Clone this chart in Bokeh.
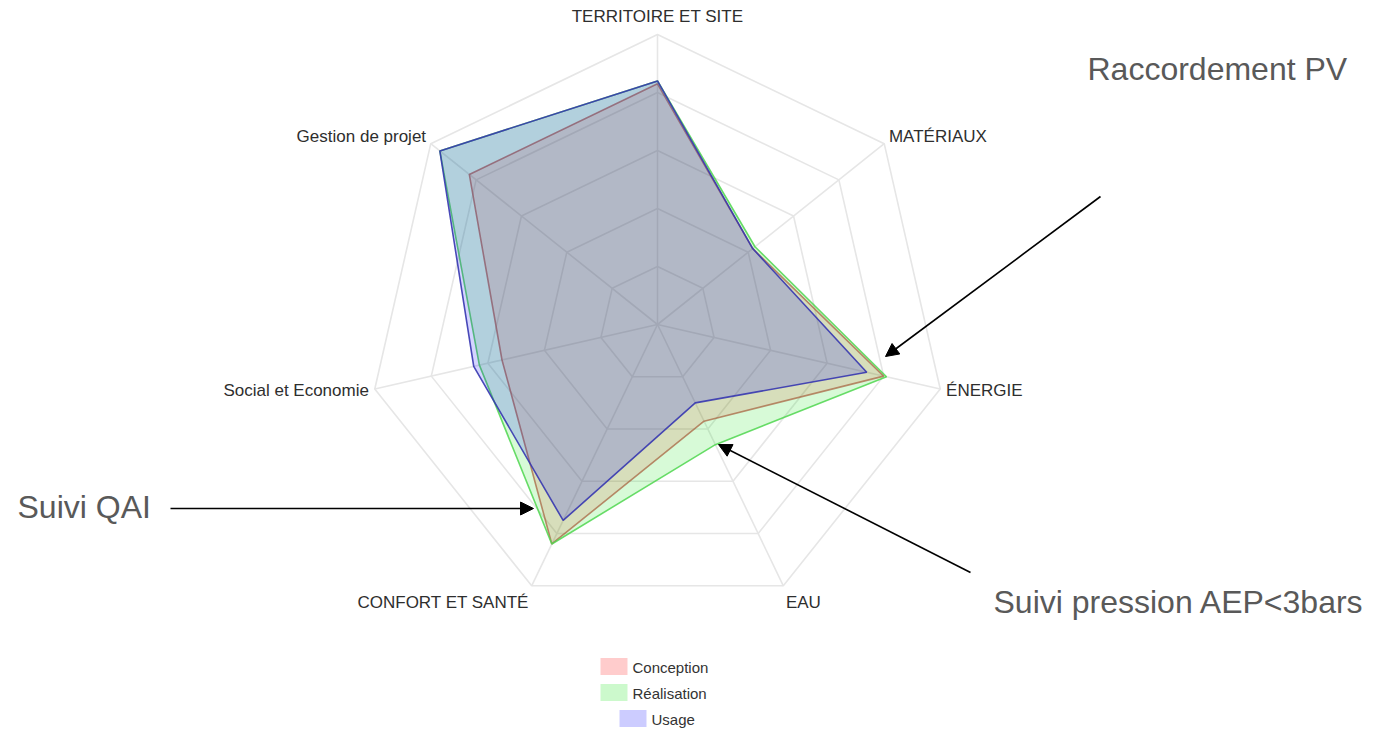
import numpy as np
from bokeh.plotting import figure
from bokeh.models import Range1d, Arrow, NormalHead
from bokeh.core.properties import value
from bokeh.embed import file_html
from bokeh.resources import INLINE

# --- data -------------------------------------------------------------
categories = ["TERRITOIRE ET SITE", "MATÉRIAUX", "ÉNERGIE", "EAU",
              "CONFORT ET SANTÉ", "Social et Economie", "Gestion de projet"]
conception = [83, 42, 80, 37, 84, 55, 83]
realisation = [84, 43, 81, 46, 84, 63, 96]
usage = [84, 42, 74, 30, 75, 65, 96]
series_names = ["Conception", "Réalisation", "Usage"]
scale_max = 100
ring_levels = [20, 40, 60, 80, 100]

notes = ["Raccordement PV", "Suivi QAI", "Suivi pression AEP<3bars"]

# --- layout (screen-like units, y grows downward) ---------------------
W, H = 1384, 734
CX, CY = 657, 324
RADIUS = 290
LABEL_R = 296
FONT = "Liberation Sans"

fill_colors = ["#ff0000", "#00e000", "#0000ff"]
fill_alphas = [0.13, 0.155, 0.17]
line_colors = ["#c85050", "#4fd64f", "#3636b0"]
line_alphas = [0.75, 0.85, 0.9]

n = len(categories)
angles = np.arange(n) * 2 * np.pi / n


def polar(vals):
    r = np.asarray(vals, dtype=float) / scale_max * RADIUS
    return CX + r * np.sin(angles), CY - r * np.cos(angles)


p = figure(width=W, height=H, output_backend="svg", toolbar_location=None,
           x_range=Range1d(0, W), y_range=Range1d(H, 0), min_border=0)
p.axis.visible = False
p.grid.visible = False
p.outline_line_color = None
p.background_fill_color = "white"

# web: concentric heptagons and spokes
for lvl in ring_levels:
    gx, gy = polar([lvl] * n)
    p.patch(list(gx) + [gx[0]], list(gy) + [gy[0]], fill_color=None,
            line_color="#e6e6e6", line_width=1.6)
ox, oy = polar([scale_max] * n)
p.segment(x0=[CX] * n, y0=[CY] * n, x1=list(ox), y1=list(oy),
          line_color="#e6e6e6", line_width=1.6)

# series polygons
for vals, fc, fa, lc, la in zip([conception, realisation, usage],
                                fill_colors, fill_alphas, line_colors, line_alphas):
    sx, sy = polar(vals)
    p.patch(list(sx), list(sy), fill_color=fc, fill_alpha=fa,
            line_color=lc, line_alpha=la, line_width=1.6)

# category labels around the web
lx, ly, aligns, bases = [], [], [], []
for a in angles:
    s, c = np.sin(a), np.cos(a)
    lx.append(CX + LABEL_R * s)
    y = CY - LABEL_R * c
    if abs(s) < 0.05:
        aligns.append("center")
    elif s > 0:
        aligns.append("left")
    else:
        aligns.append("right")
    if c > 0.95:
        bases.append("bottom")
        y -= 3
    elif c < -0.5:
        bases.append("top")
        y += 2
    else:
        bases.append("middle")
        if c > 0:
            y -= 3
    ly.append(y)
for x, y, t, al, bl in zip(lx, ly, categories, aligns, bases):
    p.text(x=[x], y=[y], text=[t], text_align=al, text_baseline=bl,
           text_font=value(FONT), text_font_size="17px", text_color="#2e2e2e")

# legend, one centred row per series
leg_cx = 656.5
leg_rows_y = [666, 692, 718]
leg_text_w = [81, 81, 43]
sw_w, sw_h, gap = 27, 17, 5
for name, fc, yy, tw in zip(series_names, fill_colors, leg_rows_y, leg_text_w):
    left = leg_cx - (sw_w + gap + tw) / 2
    p.quad(left=[left], right=[left + sw_w], top=[yy - sw_h / 2],
           bottom=[yy + sw_h / 2], fill_color=fc, fill_alpha=0.2, line_color=None)
    p.text(x=[left + sw_w + gap], y=[yy + 1], text=[name], text_align="left",
           text_baseline="middle", text_font=value(FONT),
           text_font_size="15px", text_color="#333333")

# call-out notes with arrows
note_pos = [(1087, 68), (17, 506), (993, 601)]
arrow_pts = [((1100, 196), (885, 356)),
             ((170, 508), (533, 508)),
             ((970, 572), (718, 444))]
for t, (tx, ty) in zip(notes, note_pos):
    p.text(x=[tx], y=[ty], text=[t], text_align="left", text_baseline="middle",
           text_font=value(FONT), text_font_size="32px", text_color="#595959")
for (x0, y0), (x1, y1) in arrow_pts:
    p.add_layout(Arrow(end=NormalHead(size=13, fill_color="black",
                                      line_color="black"),
                       x_start=x0, y_start=y0, x_end=x1, y_end=y1,
                       line_color="black", line_width=1.6))

open("out.html", "w").write(file_html(p, INLINE))
